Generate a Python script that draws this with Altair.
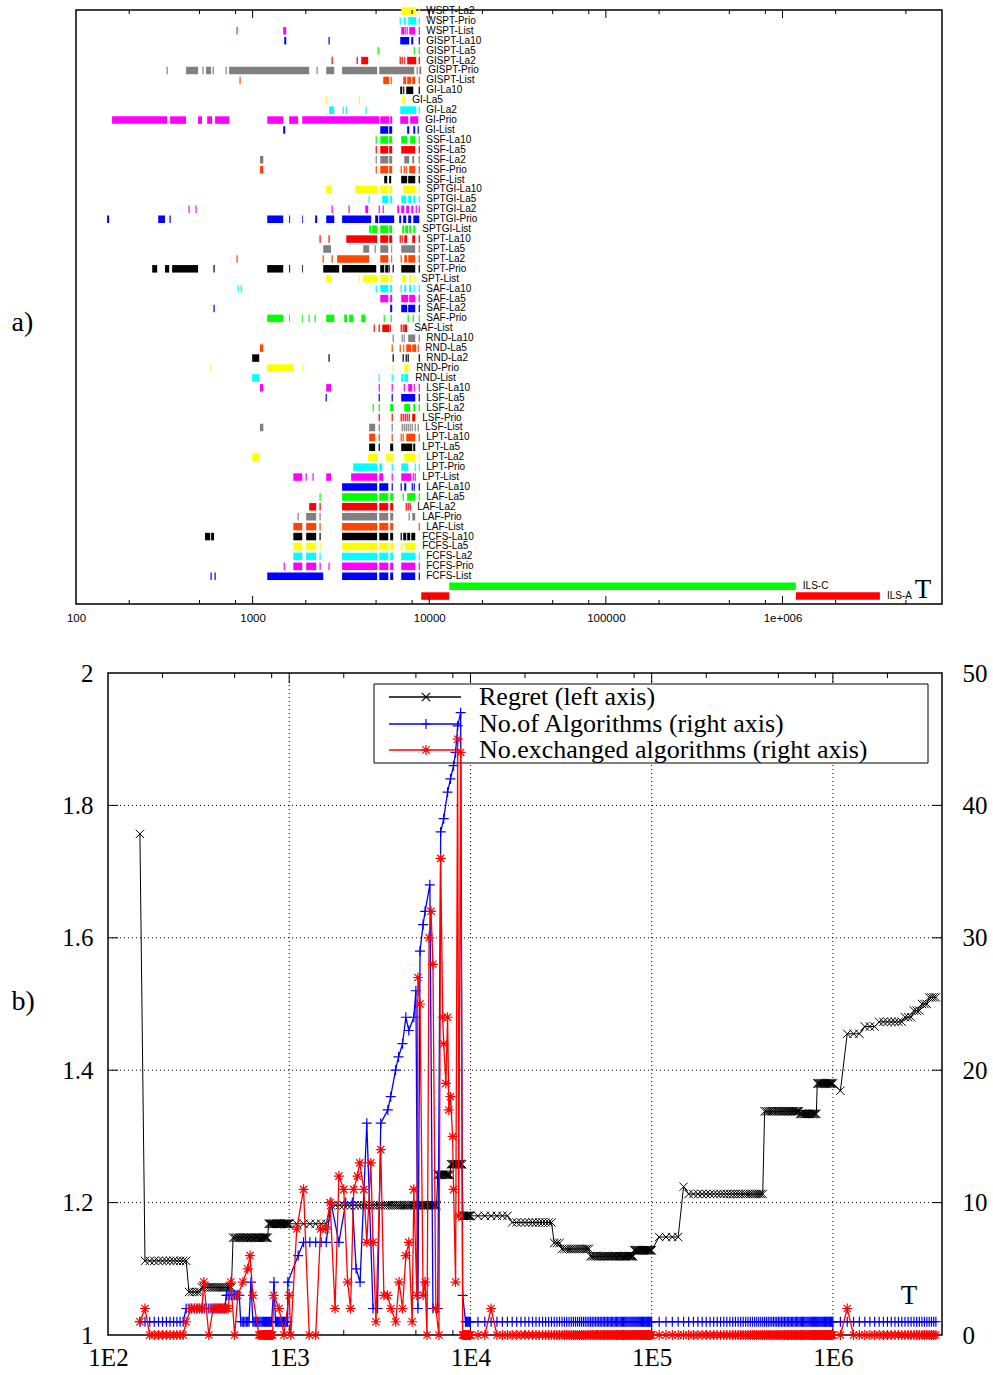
import altair as alt
import pandas as pd

# ---------------- panel a: active periods of each algorithm (T values) ----------------
# tuples = (start, end) of an active period, single numbers = very short activity
WSPT = {
    "La2":  [(6940, 8440), 8780],
    "Prio": [6850, 7220, 7310, (7600, 8440), 8780],
    "List": [817, (1490, 1550), (6940, 7220), 7310, 7500, (7700, 8330), 8780],
}
GISPT = {
    "La10": [(1510, 1550), 2710, (6850, 7700), (7910, 8120), 8780],
    "La5":  [5140, 8220, 8780],
    "La2":  [2820, 3910, (4120, 4510), 6850, 7030, (7220, 7310), (7500, 8440), 8780],
    "Prio": [328, (420, 491), 524, (545, 582), 598, 708, (736, 2090), 2320, (2610, 2900),
             (3210, 5070), (5210, 8220), 8550, (8780, 9010)],
    "List": [849, (5490, 5930), 6090, (7120, 7410), (7500, 7910), (8010, 8330), 8780],
}
GI = {
    "La10": [(6850, 7030), (7120, 7220), (7410, 8120), 8780],
    "La5":  [2610, 4010, (7030, 7220), 7310],
    "La2":  [(2710, 2900), 3260, 3390, 4390, (6850, 8440), 8780],
    "Prio": [(160, 328), (341, 420), (491, 517), (553, 590), (613, 736), (1210, 1490),
             (1610, 1810), (1910, 5210), (5280, 5930), (6010, 6170), (6850, 7600), (7800, 8660)],
    "List": [(1490, 1530), (5280, 5860), (5930, 6170), (7500, 7700), (8120, 8330), 8660],
}
SSF = {
    "La10": [5010, (5280, 5860), (5930, 6170), (6940, 7500), (7800, 8330), 8780],
    "La5":  [5010, (5280, 5860), (5930, 6170), (6940, 8330), 8780],
    "La2":  [(1100, 1150), 5010, (5280, 5860), (5930, 6170), (7220, 7700), (8010, 8220), 8780],
    "Prio": [(1100, 1150), 5010, (5280, 5860), (5930, 6170), 6940, 7220, 7410, (7700, 8330), 8780],
    "List": [(5560, 5780), (5930, 6090), (6940, 7500), (7600, 8330), 8780],
}
SPTGI = {
    "La10": [(2610, 2780), (3810, 5070), (5280, 5860), (5930, 6170), (7120, 8330), 8780],
    "La5":  [4570, (5420, 5860), (6010, 6170), (6940, 7410), (7600, 7910), (8120, 8330), 8780],
    "La2":  [437, 478, 2820, 3520, (4340, 4510), 5210, 5490, (6590, 6760), (6940, 7220),
             (7410, 7700), (7910, 8120), 8440, 8780],
    "Prio": [(150, 154), (292, 319), 341, (1210, 1490), (1610, 1630), (1910, 1930), (2260, 2320),
             (2610, 2900), (3210, 4690), (4940, 5140), (5210, 6330), (6760, 6940), (7120, 7410),
             (7600, 7910), (8120, 8780)],
    "List": [(4570, 4690), (4750, 5070), (5280, 5860), (5930, 6170), (7030, 7220), (7310, 7600),
             (7700, 7910), (8120, 8330)],
}
SPT = {
    "La10": [2410, 2710, (3390, 5070), (5280, 5860), (5930, 6170), 6850, 7030, (7220, 7500),
             (8010, 8330), 8780],
    "La5":  [(2510, 2780), (4230, 4570), 4940, (5280, 5860), (6090, 6170), (6940, 8330), 8780],
    "La2":  [817, 2510, 2820, (3010, 4570), (5280, 5860), (6090, 6170), 6940, (7220, 7500),
             (7600, 8330), 8780],
    "Prio": [(270, 288), (319, 337), (350, 491), 605, (1210, 1490), (1610, 1630), (1910, 1930),
             (2510, 3090), (3210, 5010), (5280, 5560), (5630, 5860), 5930, 6250, (6940, 8330), 8780],
    "List": [(2610, 2780), 4010, (4230, 5070), (5280, 5860), (6010, 6170), (7030, 7410),
             (7700, 7910), 8220],
}
SAF = {
    "La10": [828, 861, 5010, (5280, 5860), (6010, 6170), 6940, (7220, 7410), (7700, 7910), 8220, 8780],
    "La5":  [(5280, 5860), (6010, 6170), (6940, 7600), (7700, 8330), 8780],
    "La2":  [605, (6010, 6170), (6940, 7500), (7600, 8330), 8780],
    "Prio": [(1210, 1490), (1610, 1630), (1910, 1930), 2090, 2260, (2610, 2900), (3300, 3430),
             (3520, 3710), (4120, 4340), 5560, 6090, 7600, 8120, 8780],
    "List": [4880, 5210, (5420, 5930), 6010, 6940, 7120, (7220, 7500)],
}
RND = {
    "La10": [6250, 7030, 7220, (7600, 8330), 8780],
    "La5":  [(1100, 1150), 6170, 6850, (7120, 7220), (7410, 7910), (8010, 8440), 8660],
    "La2":  [(994, 1090), 2710, 6250, 7120, 7410, 7600, 8780],
    "Prio": [582, (1210, 1700), 1930, 6250, (7220, 7600), 7700],
    "List": [(994, 1090), 5210, 6170, (6940, 7120), (7220, 7600)],
}
LSF = {
    "La10": [(1100, 1150), (2610, 2780), 5210, 6170, 7220, (7600, 8010), 8220, 8780],
    "La5":  [2610, 5210, 6170, (6940, 8330), 8780],
    "La2":  [4820, 5210, (6010, 6250), (7220, 7800), (8120, 8330), 8780],
    "Prio": [5210, 6170, 6940, 7120, 7310, 7500, 7700, (8010, 8330)],
    "List": [(1100, 1150), (4570, 4940), 5210, 6170, 7030, 7220, 7410, 7600, 7800, 8010, 8330, 8660],
}
LPT = {
    "La10": [(4570, 4940), 5210, 6170, 6940, 7120, (7410, 8330), 8780],
    "La5":  [(4570, 4940), 5210, (6010, 6250), (6940, 8010), (8120, 8330)],
    "La2":  [(994, 1090), (4510, 5070), (5700, 5930), (6010, 6250), (7220, 8330), 8780],
    "Prio": [(3710, 5070), (5210, 5420), 6170, (6940, 7600), 8330, 8780],
    "List": [(1700, 1910), 2010, 2200, (2610, 2780), (3610, 5070), (5210, 5490), 6170,
             (6940, 7910), 8120, 8330],
}
LAF = {
    "La10": [(3210, 5070), (5210, 5860), 6170, 6940, (7220, 7410), 8010, 8220, 8780],
    "La5":  [2410, (3210, 5070), (5210, 5860), (6010, 6250), 7120, (7500, 8330), 8780],
    "La2":  [(2090, 2290), 2410, (3210, 5070), (5210, 5860), (6010, 6250), 7410, 7600, 7800],
    "Prio": [1810, (2010, 2290), 2410, (3210, 5070), (5210, 5860), (6010, 6250), 7700, (8010, 8330)],
    "List": [(1700, 1910), (2010, 2290), 2410, (3210, 5070), (5210, 5860), (6010, 6250), 8780],
}
FCFS = {
    "La10": [(538, 575), (582, 605), (1700, 1910), (2010, 2290), 2410, (3210, 5070), (5210, 5860),
             (6010, 6250), 6940, (7120, 7410), (7500, 7800), (7910, 8330)],
    "La5":  [(1700, 1910), (2010, 2290), 2410, (3210, 5070), (5210, 5860), (6010, 6250), 6940,
             7120, (7310, 8330)],
    "La2":  [(1700, 1910), (2010, 2290), 2410, (3210, 5070), (5210, 5860), (6010, 6250),
             (6940, 8330), 8780],
    "Prio": [1510, (1700, 1910), (2010, 2290), 2410, 2710, (3210, 5070), (5210, 5860),
             (6010, 6250), (6940, 8330), 8780],
    "List": [582, 613, (1210, 2510), (3210, 5070), (5210, 5860), (6010, 6250), (6940, 8330), 8780],
}
ILS = {
    "C": [(12980, 1190000)],
    "A": [(9010, 12980), (1190000, 3560000)],
}
families = [("WSPT", WSPT), ("GISPT", GISPT), ("GI", GI), ("SSF", SSF), ("SPTGI", SPTGI),
            ("SPT", SPT), ("SAF", SAF), ("RND", RND), ("LSF", LSF), ("LPT", LPT),
            ("LAF", LAF), ("FCFS", FCFS), ("ILS", ILS)]

axis_a_labels = [100, 1000, 10000, 100000, 1000000]
ticks_a_major = [1000, 10000, 100000, 1000000]
ticks_a_minor = [200, 500, 800, 2000, 5000, 8000, 20000, 50000, 80000,
                 200000, 500000, 800000, 2000000, 5000000]

# ---------------- panel b: runs (start, end, value) and single points (T, value) ----------------
regret_runs = [
    (150, 1.757), (160, 270, 1.112), (280, 320, 1.065), (330, 480, 1.072),
    (490, 760, 1.147), (770, 1600, 1.168), (1700, 6500, 1.196), (6600, 7700, 1.242),
    (7800, 9000, 1.258), (9100, 16000, 1.180), (17000, 28000, 1.170), (29000, 31000, 1.139),
    (32000, 45000, 1.130), (46000, 79000, 1.119), (80000, 100000, 1.128),
    (110000, 140000, 1.148), (150000, 1.224), (160000, 410000, 1.213),
    (420000, 650000, 1.338), (660000, 810000, 1.334), (820000, 1000000, 1.380),
    (1100000, 1.369), (1200000, 1400000, 1.455), (1500000, 1700000, 1.466),
    (1800000, 2400000, 1.473), (2500000, 2700000, 1.480), (2800000, 3000000, 1.490),
    (3100000, 3300000, 1.500), (3400000, 3700000, 1.510),
]
algos_runs = [
    (150, 260, 1), (270, 440, 2), (450, 530, 3), (540, 600, 1), (615, 4),
    (630, 800, 1), (824, 4), (840, 980, 1), (983, 4), (1120, 6),
    (1200, 1600, 7), (1700, 10), (1880, 7), (2050, 10), (2230, 10),
    (2340, 5), (2460, 4), (2680, 16), (2900, 2), (3070, 2),
    (3200, 16), (3500, 17), (3630, 18), (3860, 20), (4010, 21),
    (4220, 22), (4400, 24), (4570, 23), (4870, 24), (5000, 26),
    (5130, 2), (5270, 29), (5480, 31), (5620, 32), (5970, 34),
    (6210, 2), (6600, 2), (6850, 38), (7120, 39), (7480, 41),
    (7760, 42), (8070, 43), (8280, 44), (8500, 46), (8830, 47),
    (9060, 3), (9400, 3700000, 1),
]
exch_runs = [
    (150, 1), (160, 2), (170, 260, 0), (270, 1), (287, 2), (300, 330, 2), (338, 4), (360, 0),
    (380, 460, 2), (476, 4), (500, 0), (520, 3), (555, 4), (590, 5), (608, 6), (630, 3),
    (680, 810, 0), (820, 3), (880, 2), (935, 0), (1000, 3), (1020, 0), (1100, 8), (1200, 11),
    (1290, 0), (1400, 0), (1490, 8), (1590, 8), (1680, 10), (1790, 2), (1880, 12), (2000, 11),
    (2100, 4), (2180, 2), (2270, 11), (2380, 12), (2450, 13), (2580, 11), (2680, 7), (2820, 13),
    (2900, 7), (3010, 1), (3200, 14), (3330, 3), (3490, 3), (3640, 2), (3870, 1), (4040, 4),
    (4220, 2), (4400, 6), (4570, 7), (4770, 1), (4870, 11), (5060, 3), (5130, 27), (5270, 25),
    (5480, 3), (5620, 4), (5760, 0), (5910, 30), (6060, 32), (6210, 28), (6440, 2), (6700, 0),
    (6850, 36), (7030, 24), (7120, 22), (7320, 19), (7480, 24), (7600, 17), (7760, 18),
    (7970, 15), (8070, 11), (8280, 4), (8500, 45), (8620, 9), (8830, 44), (9060, 0),
    (9100, 12000, 0), (13000, 2), (14000, 1100000, 0), (1200000, 2), (1300000, 3700000, 0),
]
axis_b_labels = [100, 1000, 10000, 100000, 1000000]
ticks_b_major = [1000, 10000, 100000, 1000000]
ticks_b_minor = [200, 500, 800, 2000, 5000, 8000, 20000, 50000, 80000,
                 200000, 500000, 800000, 2000000]
left_ticks = [1, 1.2, 1.4, 1.6, 1.8, 2]
right_ticks = [0, 10, 20, 30, 40, 50]
grid_y = [1.2, 1.4, 1.6, 1.8]

PALETTE = ["#ffff00", "#00ffff", "#ff00ff", "#0000ff", "#00ff00",
           "#ff0000", "#808080", "#ff4500", "#000000"]
SERIF = "Liberation Serif"
SANS = "Liberation Sans"

# ---------------- build panel a tables ----------------
bar_rows, tick_rows, label_rows = [], [], []
i = 0
for fam, d in families:
    for key, segs in d.items():
        color = PALETTE[i % 9]
        last = 0
        for s in segs:
            if isinstance(s, tuple):
                bar_rows.append({"row": i, "start": s[0], "end": s[1], "color": color})
                last = max(last, s[1])
            else:
                tick_rows.append({"row": i, "t": s, "color": color})
                last = max(last, s)
        label_rows.append({"row": i, "name": f"{fam}-{key}", "last": last})
        i += 1
bars_df = pd.DataFrame(bar_rows)
thin_df = pd.DataFrame(tick_rows)
labels_df = pd.DataFrame(label_rows)

W_A, H_A = 866, 594
xa_scale = alt.Scale(type="log", domain=[100, 8000000], nice=False, padding=0)
xa_axis = alt.Axis(values=axis_a_labels,
                   labelExpr="datum.value >= 1000000 ? '1e+006' : format(datum.value, 'd')",
                   ticks=False, domain=False, grid=False, title=None,
                   labelFont=SANS, labelFontSize=11.5, labelPadding=8,
                   labelFlush=False, labelOverlap=False, labelColor="black")


def xa(f):
    return alt.X(f"{f}:Q", scale=xa_scale, axis=xa_axis)


ya = alt.Y("row:Q",
           scale=alt.Scale(domain=[-0.1, 59.8], reverse=True, nice=False, zero=False, padding=0),
           axis=alt.Axis(title="a)", titleAngle=0, titleX=-65, titleY=312, titleAlign="left",
                         titleBaseline="middle", titleFont=SERIF, titleFontSize=28,
                         titleFontWeight="normal", titleColor="black",
                         labels=False, ticks=False, domain=False, grid=False))

bars = alt.Chart(bars_df).mark_bar(size=7.5, opacity=1).encode(
    x=xa("start"), x2="end", y=ya, color=alt.Color("color:N", scale=None))
thin = alt.Chart(thin_df).mark_tick(orient="vertical", size=7.5, thickness=1.2, opacity=1).encode(
    x=xa("t"), y=ya, color=alt.Color("color:N", scale=None))
labels = alt.Chart(labels_df).mark_text(align="left", baseline="middle", dx=7, font=SANS,
                                        fontSize=10, color="black").encode(
    x=xa("last"), y=ya, text="name:N")


def xrules(vals, xenc, y1, y2):
    return alt.Chart(pd.DataFrame({"v": vals})).mark_rule(color="black", strokeWidth=1).encode(
        x=xenc("v"), y=alt.value(y1), y2=alt.value(y2))


one = pd.DataFrame({"k": [0]})
t_a = alt.Chart(one).mark_text(font=SERIF, fontSize=27, color="black").encode(
    x=alt.value(847), y=alt.value(580), text=alt.value("T"))

panel_a = alt.layer(
    bars, thin, labels, t_a,
    xrules(ticks_a_major, xa, H_A, H_A - 8), xrules(ticks_a_minor, xa, H_A, H_A - 4),
    xrules(ticks_a_major, xa, 0, 8), xrules(ticks_a_minor, xa, 0, 4),
).properties(width=W_A, height=H_A)

# ---------------- build panel b tables ----------------


def grid_points(lo, hi):
    pts = []
    for d in range(1, 6):
        step = 10 ** d
        for k in range(10, 100):
            t = k * step
            if lo <= t <= hi:
                pts.append(t)
    return pts


def expand(runs):
    out = []
    for r in runs:
        if len(r) == 2:
            out.append((r[0], r[1]))
        else:
            out += [(t, r[2]) for t in grid_points(r[0], r[1])]
    return out


reg_df = pd.DataFrame(expand(regret_runs), columns=["T", "v"])
blue_df = pd.DataFrame(expand(algos_runs), columns=["T", "n"])
red_df = pd.DataFrame(expand(exch_runs), columns=["T", "n"])

# panel b shares panel a's left origin; its own frame starts OFF pixels further right
W_B, H_B, OFF = 866, 662, 32
xb_scale = alt.Scale(type="log", domain=[100, 4000000], nice=False, range=[OFF, W_B])
xb_axis = alt.Axis(values=axis_b_labels, labelExpr="'1E' + round(log(datum.value) / LN10)",
                   ticks=False, domain=False, grid=False, title=None,
                   labelFont=SERIF, labelFontSize=25, labelPadding=10,
                   labelFlush=False, labelOverlap=False, labelColor="black")


def xb(f):
    return alt.X(f"{f}:Q", scale=xb_scale, axis=xb_axis)


yl_scale = alt.Scale(domain=[1, 2], nice=False, zero=False)
yl_axis = alt.Axis(values=left_ticks, format=".1~f", ticks=False, domain=False, grid=False,
                   offset=-OFF,
                   labelFont=SERIF, labelFontSize=25, labelPadding=15, labelColor="black",
                   labelFlush=False, labelOverlap=False,
                   title="b)", titleAngle=0, titleX=-97, titleY=328, titleAlign="left",
                   titleBaseline="middle", titleFont=SERIF, titleFontSize=28,
                   titleFontWeight="normal", titleColor="black")


def yl(f):
    return alt.Y(f"{f}:Q", scale=yl_scale, axis=yl_axis)


yr = alt.Y("n:Q", scale=alt.Scale(domain=[0, 50], nice=False, zero=False),
           axis=alt.Axis(orient="right", values=right_ticks, format="d", ticks=False,
                         domain=False, grid=False, labelFont=SERIF, labelFontSize=25,
                         labelPadding=20, labelColor="black", labelFlush=False,
                         labelOverlap=False, title=None))

X_SHAPE = "M-1,-1L1,1M-1,1L1,-1"
PLUS_SHAPE = "M-1,0L1,0M0,-1L0,1"
STAR_SHAPE = "M-1,0L1,0M0,-1L0,1M-0.72,-0.72L0.72,0.72M-0.72,0.72L0.72,-0.72"

frame_b = alt.Chart(one).mark_rect(fill="white", stroke="black", strokeWidth=1.5).encode(
    x=alt.value(OFF), x2=alt.value(W_B), y=alt.value(0), y2=alt.value(H_B))
grid_x_layer = alt.Chart(pd.DataFrame({"v": ticks_b_major})).mark_rule(
    color="black", strokeDash=[1, 3], strokeWidth=1).encode(x=xb("v"))
grid_y_layer = alt.Chart(pd.DataFrame({"v": grid_y})).mark_rule(
    color="black", strokeDash=[1, 3], strokeWidth=1).encode(
    y=yl("v"), x=alt.value(OFF), x2=alt.value(W_B))
yticks_l = alt.Chart(pd.DataFrame({"v": grid_y})).mark_rule(color="black", strokeWidth=1).encode(
    y=yl("v"), x=alt.value(OFF), x2=alt.value(OFF + 10))
yticks_r = alt.Chart(pd.DataFrame({"v": grid_y})).mark_rule(color="black", strokeWidth=1).encode(
    y=yl("v"), x=alt.value(W_B), x2=alt.value(W_B - 10))
legend_box = alt.Chart(one).mark_rect(fill="white", stroke="black", strokeWidth=1).encode(
    x=alt.value(OFF + 266), x2=alt.value(OFF + 820), y=alt.value(11), y2=alt.value(90))

reg_line = alt.Chart(reg_df).mark_line(color="black", strokeWidth=1).encode(x=xb("T"), y=yl("v"))
reg_pts = alt.Chart(reg_df).mark_point(shape=X_SHAPE, filled=False, size=70, color="black",
                                       strokeWidth=1, opacity=1).encode(x=xb("T"), y=yl("v"))

left_group = alt.layer(
    frame_b, grid_x_layer, grid_y_layer, yticks_l, yticks_r,
    xrules(ticks_b_major, xb, H_B, H_B - 10), xrules(ticks_b_minor, xb, H_B, H_B - 5),
    xrules(ticks_b_major, xb, 0, 10), xrules(ticks_b_minor, xb, 0, 5),
    legend_box, reg_line, reg_pts)

blue_line = alt.Chart(blue_df).mark_line(color="#0000ff", strokeWidth=1.3).encode(x=xb("T"), y=yr)
blue_pts = alt.Chart(blue_df).mark_point(shape=PLUS_SHAPE, filled=False, size=100, color="#0000ff",
                                         strokeWidth=1.2, opacity=1).encode(x=xb("T"), y=yr)
red_line = alt.Chart(red_df).mark_line(color="#ff0000", strokeWidth=1.3).encode(x=xb("T"), y=yr)
red_pts = alt.Chart(red_df).mark_point(shape=STAR_SHAPE, filled=False, size=100, color="#ff0000",
                                       strokeWidth=1.2, opacity=1).encode(x=xb("T"), y=yr)
right_group = alt.layer(blue_line, blue_pts, red_line, red_pts)

legend_items = [("Regret (left axis)", "black", X_SHAPE, 70, 24),
                ("No.of Algorithms (right axis)", "#0000ff", PLUS_SHAPE, 100, 51),
                ("No.exchanged algorithms (right axis)", "#ff0000", STAR_SHAPE, 100, 77)]
legend_layers = []
for text, col, shp, sz, yy in legend_items:
    legend_layers.append(alt.Chart(one).mark_rule(color=col, strokeWidth=1.3).encode(
        x=alt.value(OFF + 281), x2=alt.value(OFF + 353), y=alt.value(yy)))
    legend_layers.append(alt.Chart(one).mark_point(shape=shp, filled=False, size=sz, color=col,
                                                   strokeWidth=1.2, opacity=1).encode(
        x=alt.value(OFF + 318), y=alt.value(yy)))
    legend_layers.append(alt.Chart(one).mark_text(align="left", baseline="middle", font=SERIF,
                                                  fontSize=26, color="black").encode(
        x=alt.value(OFF + 371), y=alt.value(yy), text=alt.value(text)))

t_b = alt.Chart(one).mark_text(font=SERIF, fontSize=27, color="black").encode(
    x=alt.value(OFF + 801), y=alt.value(623), text=alt.value("T"))

panel_b = alt.layer(left_group, right_group, *legend_layers, t_b).resolve_scale(
    y="independent").properties(width=W_B, height=H_B,
                                view=alt.ViewBackground(stroke="transparent"))

chart = alt.vconcat(panel_a, panel_b, spacing=35).resolve_scale(
    x="independent", y="independent").configure_view(
    stroke="black", strokeWidth=1.5).properties(
    padding={"left": 10, "top": 5, "right": 0, "bottom": 0}, background="white")

chart.save("out.html", embed_options={"renderer": "svg", "actions": False})
